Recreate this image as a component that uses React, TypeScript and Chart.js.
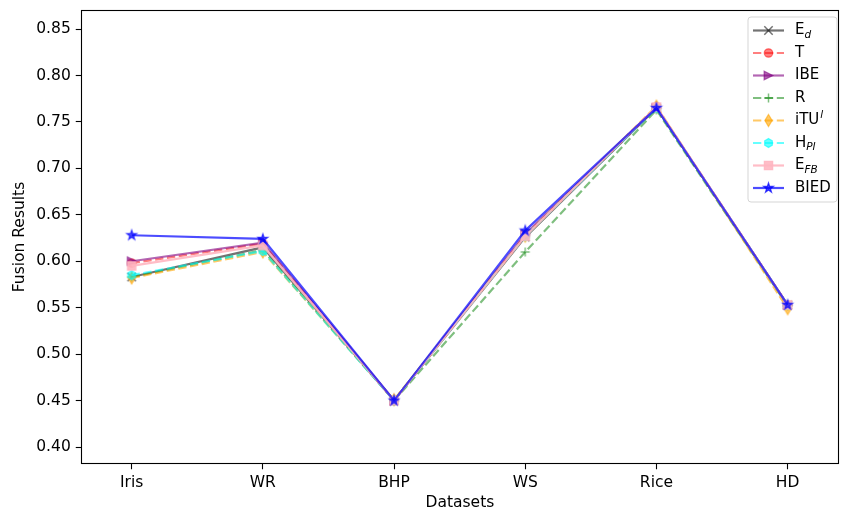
import React, { useEffect, useRef } from "react";
import { Chart, registerables } from "chart.js";

Chart.register(...registerables);

const categories = ["Iris", "WR", "BHP", "WS", "Rice", "HD"];
const yTickValues = [0.4, 0.45, 0.5, 0.55, 0.6, 0.65, 0.7, 0.75, 0.8, 0.85];

const valuesEd = [0.583, 0.615, 0.45, 0.626, 0.765, 0.553];
const valuesT = [0.598, 0.619, 0.45, 0.628, 0.766, 0.553];
const valuesIBE = [0.6, 0.62, 0.45, 0.629, 0.765, 0.553];
const valuesR = [0.583, 0.612, 0.45, 0.61, 0.763, 0.552];
const valuesITU = [0.582, 0.61, 0.451, 0.627, 0.767, 0.549];
const valuesHPI = [0.585, 0.611, 0.45, 0.627, 0.765, 0.553];
const valuesEFB = [0.595, 0.617, 0.45, 0.627, 0.766, 0.553];
const valuesBIED = [0.628, 0.624, 0.45, 0.633, 0.765, 0.553];

type Label = { base: string; sub?: string; sup?: string };

const seriesDefs = [
  { label: { base: "E", sub: "d" } as Label, values: valuesEd, color: "rgba(0,0,0,0.55)", dashed: false, marker: "x" },
  { label: { base: "T" } as Label, values: valuesT, color: "rgba(255,0,0,0.5)", dashed: true, marker: "o" },
  { label: { base: "IBE" } as Label, values: valuesIBE, color: "rgba(128,0,128,0.6)", dashed: false, marker: ">" },
  { label: { base: "R" } as Label, values: valuesR, color: "rgba(0,128,0,0.5)", dashed: true, marker: "+" },
  { label: { base: "iTU", sup: "l" } as Label, values: valuesITU, color: "rgba(255,165,0,0.6)", dashed: true, marker: "d" },
  { label: { base: "H", sub: "PI" } as Label, values: valuesHPI, color: "rgba(0,255,255,0.6)", dashed: true, marker: "h" },
  { label: { base: "E", sub: "FB" } as Label, values: valuesEFB, color: "rgba(255,182,193,0.9)", dashed: false, marker: "s" },
  { label: { base: "BIED" } as Label, values: valuesBIED, color: "rgba(0,0,255,0.7)", dashed: false, marker: "*" },
];

const FONT = "'DejaVu Sans', sans-serif";
const FS = 15.5;
const LFS = 15;
const LW = 2.2;
const DASH = [8.3, 3.6];

function drawMarker(ctx: CanvasRenderingContext2D, shape: string, cx: number, cy: number, color: string) {
  ctx.save();
  ctx.fillStyle = color;
  ctx.strokeStyle = color;
  ctx.lineWidth = 1.3;
  ctx.setLineDash([]);
  ctx.beginPath();
  if (shape === "x") {
    const r = 4.2;
    ctx.lineWidth = 1.5;
    ctx.moveTo(cx - r, cy - r);
    ctx.lineTo(cx + r, cy + r);
    ctx.moveTo(cx - r, cy + r);
    ctx.lineTo(cx + r, cy - r);
    ctx.stroke();
  } else if (shape === "+") {
    const r = 4.5;
    ctx.lineWidth = 1.5;
    ctx.moveTo(cx - r, cy);
    ctx.lineTo(cx + r, cy);
    ctx.moveTo(cx, cy - r);
    ctx.lineTo(cx, cy + r);
    ctx.stroke();
  } else {
    if (shape === "o") {
      ctx.arc(cx, cy, 4.2, 0, Math.PI * 2);
    } else if (shape === ">") {
      const r = 4.3;
      ctx.moveTo(cx + r, cy);
      ctx.lineTo(cx - r, cy - r);
      ctx.lineTo(cx - r, cy + r);
      ctx.closePath();
    } else if (shape === "d") {
      const r = 6;
      ctx.moveTo(cx, cy - r);
      ctx.lineTo(cx + r * 0.6, cy);
      ctx.lineTo(cx, cy + r);
      ctx.lineTo(cx - r * 0.6, cy);
      ctx.closePath();
    } else if (shape === "h") {
      const r = 4.4;
      for (let k = 0; k < 6; k++) {
        const a = -Math.PI / 2 + (k * Math.PI) / 3;
        const px = cx + r * Math.cos(a);
        const py = cy + r * Math.sin(a);
        if (k === 0) ctx.moveTo(px, py);
        else ctx.lineTo(px, py);
      }
      ctx.closePath();
    } else if (shape === "s") {
      const h = 4.1;
      ctx.rect(cx - h, cy - h, 2 * h, 2 * h);
    } else if (shape === "*") {
      const ro = 5;
      const ri = 2;
      for (let k = 0; k < 10; k++) {
        const a = -Math.PI / 2 + (k * Math.PI) / 5;
        const r = k % 2 === 0 ? ro : ri;
        const px = cx + r * Math.cos(a);
        const py = cy + r * Math.sin(a);
        if (k === 0) ctx.moveTo(px, py);
        else ctx.lineTo(px, py);
      }
      ctx.closePath();
    }
    ctx.fill();
    ctx.stroke();
  }
  ctx.restore();
}

function makeMarkerCanvas(shape: string, color: string) {
  const c = document.createElement("canvas");
  c.width = 16;
  c.height = 16;
  const ctx = c.getContext("2d")!;
  drawMarker(ctx, shape, 8, 8, color);
  return c;
}

function drawLabel(ctx: CanvasRenderingContext2D, label: Label, x: number, y: number) {
  ctx.save();
  ctx.fillStyle = "#000";
  ctx.textBaseline = "middle";
  ctx.textAlign = "left";
  ctx.font = `${LFS}px ${FONT}`;
  ctx.fillText(label.base, x, y);
  const w = ctx.measureText(label.base).width;
  if (label.sub) {
    ctx.font = `italic 10.5px ${FONT}`;
    ctx.fillText(label.sub, x + w, y + 4.5);
  }
  if (label.sup) {
    ctx.font = `italic 10.5px ${FONT}`;
    ctx.fillText(label.sup, x + w + 1, y - 5.5);
  }
  ctx.restore();
}

const framePlugin = {
  id: "frameAndLegend",
  afterDraw(chart: any) {
    const ctx: CanvasRenderingContext2D = chart.ctx;
    const a = chart.chartArea;
    ctx.save();
    ctx.strokeStyle = "#000";
    ctx.lineWidth = 1.1;
    ctx.setLineDash([]);
    ctx.strokeRect(Math.round(a.left) + 0.5, Math.round(a.top) + 0.5, Math.round(a.right - a.left) - 1, Math.round(a.bottom - a.top) - 1);

    // legend
    const bx = 748;
    const by = 17;
    const bw = 89;
    const bh = 185;
    const rr = 3;
    ctx.beginPath();
    ctx.moveTo(bx + rr, by);
    ctx.lineTo(bx + bw - rr, by);
    ctx.quadraticCurveTo(bx + bw, by, bx + bw, by + rr);
    ctx.lineTo(bx + bw, by + bh - rr);
    ctx.quadraticCurveTo(bx + bw, by + bh, bx + bw - rr, by + bh);
    ctx.lineTo(bx + rr, by + bh);
    ctx.quadraticCurveTo(bx, by + bh, bx, by + bh - rr);
    ctx.lineTo(bx, by + rr);
    ctx.quadraticCurveTo(bx, by, bx + rr, by);
    ctx.closePath();
    ctx.fillStyle = "rgba(255,255,255,0.8)";
    ctx.fill();
    ctx.strokeStyle = "#d5d5d5";
    ctx.lineWidth = 1;
    ctx.stroke();

    seriesDefs.forEach((s, i) => {
      const y = 30.5 + i * 22.5;
      ctx.save();
      ctx.strokeStyle = s.color;
      ctx.lineWidth = LW;
      ctx.setLineDash(s.dashed ? DASH : []);
      ctx.beginPath();
      ctx.moveTo(753, y);
      ctx.lineTo(784, y);
      ctx.stroke();
      ctx.restore();
      drawMarker(ctx, s.marker, 768.5, y, s.color);
      drawLabel(ctx, s.label, 795, y);
    });
    ctx.restore();
  },
};

function zeroPadding(scale: any) {
  scale.paddingLeft = 0;
  scale.paddingRight = 0;
  scale.paddingTop = 0;
  scale.paddingBottom = 0;
}

export default function App() {
  const ref = useRef<HTMLCanvasElement | null>(null);

  useEffect(() => {
    if (!ref.current) return;
    const datasets = seriesDefs.map((s, i) => {
      const img = makeMarkerCanvas(s.marker, s.color);
      return {
        label: s.label.base + (s.label.sub || "") + (s.label.sup || ""),
        data: s.values.map((v, k) => ({ x: k, y: v })),
        borderColor: s.color,
        backgroundColor: s.color,
        borderWidth: LW,
        borderDash: s.dashed ? DASH : [],
        pointStyle: img as any,
        pointRadius: 5,
        tension: 0,
        order: seriesDefs.length - i,
      };
    });

    const chart = new Chart(ref.current, {
      type: "line",
      data: { datasets },
      plugins: [framePlugin],
      options: {
        animation: false,
        responsive: false,
        devicePixelRatio: 1,
        layout: { padding: { left: 0, right: 2, top: 10, bottom: 0 } },
        plugins: { legend: { display: false }, tooltip: { enabled: false } },
        scales: {
          x: {
            type: "linear",
            min: -0.386,
            max: 5.39,
            border: { display: false },
            grid: { drawOnChartArea: false, drawTicks: true, tickLength: 5.25, color: "#000", tickWidth: 1.1 },
            afterBuildTicks: (scale: any) => {
              scale.ticks = categories.map((_, k) => ({ value: k }));
            },
            afterFit: (scale: any) => {
              scale.height = 48;
              zeroPadding(scale);
            },
            ticks: {
              padding: 4,
              color: "#000",
              font: { family: FONT, size: FS },
              maxRotation: 0,
              autoSkip: false,
              callback: (v: any) => categories[Math.round(Number(v))] ?? "",
            },
            title: {
              display: true,
              text: "Datasets",
              color: "#000",
              font: { family: FONT, size: FS },
              padding: { top: 0, bottom: 0 },
            },
          },
          y: {
            type: "linear",
            min: 0.3817,
            max: 0.8705,
            border: { display: false },
            grid: { drawOnChartArea: false, drawTicks: true, tickLength: 5.25, color: "#000", tickWidth: 1.1 },
            afterBuildTicks: (scale: any) => {
              scale.ticks = yTickValues.map((v) => ({ value: v }));
            },
            afterFit: (scale: any) => {
              scale.width = 81;
              zeroPadding(scale);
            },
            ticks: {
              padding: 5,
              color: "#000",
              font: { family: FONT, size: FS },
              callback: (v: any) => Number(v).toFixed(2),
            },
            title: {
              display: true,
              text: "Fusion Results",
              color: "#000",
              font: { family: FONT, size: FS },
              padding: { top: 10.5, bottom: 0 },
            },
          },
        },
      },
    });
    return () => chart.destroy();
  }, []);

  return (
    <div style={{ position: "absolute", left: 0, top: 0, width: 846, height: 512, background: "#fff" }}>
      <canvas ref={ref} width={846} height={512} style={{ width: 846, height: 512 }} />
    </div>
  );
}
